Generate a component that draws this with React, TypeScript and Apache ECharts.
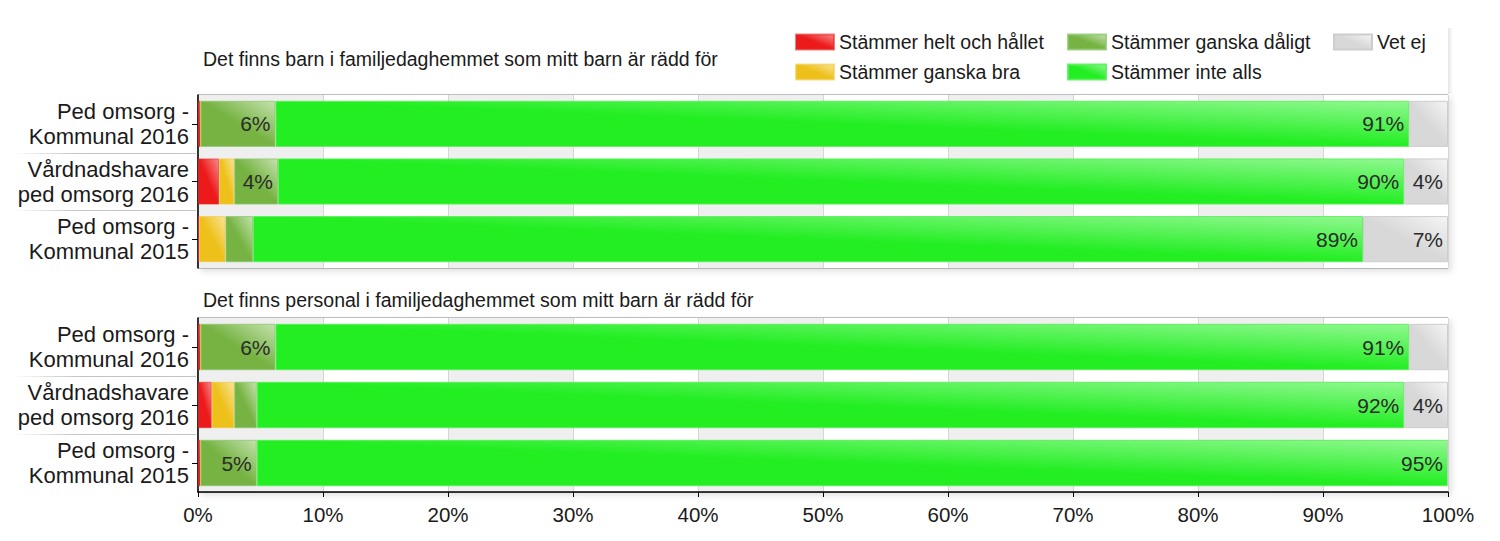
import React, { useEffect, useRef } from "react";
import * as echarts from "echarts";

const categories = [
  "Ped omsorg -\nKommunal 2016",
  "Vårdnadshavare\nped omsorg 2016",
  "Ped omsorg -\nKommunal 2015",
];
const seriesNames = [
  "Stämmer helt och hållet",
  "Stämmer ganska bra",
  "Stämmer ganska dåligt",
  "Stämmer inte alls",
  "Vet ej",
];
const panelTitles = [
  "Det finns barn i familjedaghemmet som mitt barn är rädd för",
  "Det finns personal i familjedaghemmet som mitt barn är rädd för",
];
const xTicks = [0, 10, 20, 30, 40, 50, 60, 70, 80, 90, 100];

// Panel 1: barn
const barnHelt = [0.2, 1.7, 0.1];
const barnBra = [0, 1.2, 2.1];
const barnDaligt = [6.0, 3.5, 2.2];
const barnInte = [90.7, 90.1, 88.8];
const barnVetEj = [3.1, 3.5, 6.8];

// Panel 2: personal
const persHelt = [0.2, 1.1, 0.2];
const persBra = [0, 1.8, 0];
const persDaligt = [6.0, 1.8, 4.5];
const persInte = [90.7, 91.8, 95.3];
const persVetEj = [3.1, 3.5, 0];

const FONT = "'Liberation Sans', Arial, sans-serif";

const palette = [
  { base: "#ec1a1a", light: "#f88a8a", border: "rgba(230,40,40,0.6)" },
  { base: "#eec01a", light: "#f9e496", border: "rgba(240,200,60,0.6)" },
  { base: "#76b342", light: "#c4e2ae", border: "rgba(140,200,110,0.8)" },
  { base: "#22ee22", light: "#90f890", border: "rgba(90,240,90,0.9)" },
  { base: "#d8d8d8", light: "#f5f5f5", border: "#cdcdcd" },
];

const grad = (base: string, light: string) =>
  new echarts.graphic.LinearGradient(0, 1, 1, 0, [
    { offset: 0, color: base },
    { offset: 0.5, color: base },
    { offset: 1, color: light },
  ]);

export default function App() {
  const ref = useRef<HTMLDivElement>(null);

  useEffect(() => {
    if (!ref.current) return;
    const chart = echarts.init(ref.current, null, { renderer: "svg" });

    const panels = [
      [barnHelt, barnBra, barnDaligt, barnInte, barnVetEj],
      [persHelt, persBra, persDaligt, persInte, persVetEj],
    ];

    const series: any[] = [];
    panels.forEach((panel, gi) => {
      panel.forEach((vals, si) => {
        series.push({
          type: "bar",
          name: seriesNames[si],
          xAxisIndex: gi,
          yAxisIndex: gi,
          stack: "s" + gi,
          barCategoryGap: "20%",
          data: vals,
          itemStyle: {
            color: grad(palette[si].base, palette[si].light),
            borderColor: palette[si].border,
            borderWidth: 1,
          },
          label: {
            show: true,
            position: "insideRight",
            distance: 5,
            fontSize: 21,
            fontFamily: FONT,
            color: "#2a2a2a",
            formatter: (p: any) =>
              p.value >= 3.3 ? Math.round(p.value) + "%" : "",
          },
        });
      });
    });

    const gridCommon = {
      left: 198,
      width: 1250,
      show: true,
      backgroundColor: "#ffffff",
      borderColor: "#808080",
      borderWidth: 1,
      shadowColor: "rgba(0,0,0,0.12)",
      shadowBlur: 6,
      shadowOffsetX: 3,
      shadowOffsetY: 3,
    };

    const xCommon = {
      type: "value",
      min: 0,
      max: 100,
      interval: 10,
      splitLine: { show: true, lineStyle: { color: "#d6d6d6" } },
      splitArea: { show: true, areaStyle: { color: ["#efefef", "#ffffff"] } },
    };

    const yCommon = {
      type: "category",
      data: categories,
      inverse: true,
      axisLine: { show: true, lineStyle: { color: "#000", width: 1.5 } },
      axisTick: { show: true, alignWithLabel: true, length: 6, lineStyle: { color: "#000" } },
      axisLabel: {
        fontSize: 22,
        lineHeight: 25,
        color: "#1a1a1a",
        fontFamily: FONT,
        margin: 9,
        align: "right",
      },
    };

    const legendCommon = {
      orient: "vertical",
      top: 27,
      itemWidth: 38,
      itemHeight: 15,
      itemGap: 10,
      selectedMode: false,
      icon: "rect",
      textStyle: { fontSize: 19.5, color: "#1a1a1a", fontFamily: FONT },
    };

    const option: any = {
      animation: false,
      textStyle: { fontFamily: FONT },
      title: [
        {
          text: panelTitles[0],
          left: 198,
          top: 44,
          textStyle: { fontSize: 19.5, fontWeight: "normal", color: "#1a1a1a", fontFamily: FONT },
        },
        {
          text: panelTitles[1],
          left: 198,
          top: 285,
          textStyle: { fontSize: 19.5, fontWeight: "normal", color: "#1a1a1a", fontFamily: FONT },
        },
      ],
      legend: [
        { ...legendCommon, left: 790, data: [seriesNames[0], seriesNames[1]] },
        { ...legendCommon, left: 1062, data: [seriesNames[2], seriesNames[3]] },
        { ...legendCommon, left: 1328, data: [seriesNames[4]] },
      ],
      grid: [
        { ...gridCommon, top: 95, height: 173 },
        { ...gridCommon, top: 318, height: 174 },
      ],
      xAxis: [
        {
          ...xCommon,
          gridIndex: 0,
          axisLabel: { show: false },
          axisLine: { show: false },
          axisTick: { show: false },
        },
        {
          ...xCommon,
          gridIndex: 1,
          axisLine: { show: true, lineStyle: { color: "#000", width: 1.5 } },
          axisTick: { show: true, length: 5, lineStyle: { color: "#000" } },
          axisLabel: {
            fontSize: 20.5,
            color: "#1a1a1a",
            fontFamily: FONT,
            margin: 12,
            formatter: (v: number) => (xTicks.includes(v) ? v + "%" : ""),
          },
        },
      ],
      yAxis: [
        { ...yCommon, gridIndex: 0 },
        { ...yCommon, gridIndex: 1 },
      ],
      series,
    };

    chart.setOption(option);

    // legend box right-edge shadow and separator lines between category labels
    const graphics: any[] = [
      {
        type: "rect",
        shape: { x: 1448, y: 28, width: 5, height: 66 },
        style: {
          fill: new echarts.graphic.LinearGradient(0, 0, 1, 0, [
            { offset: 0, color: "rgba(0,0,0,0.10)" },
            { offset: 1, color: "rgba(0,0,0,0)" },
          ]),
        },
        silent: true,
      },
    ];
    [0, 1].forEach((gi) => {
      const centers = categories.map((_, i) =>
        chart.convertToPixel({ yAxisIndex: gi } as any, i) as number
      );
      for (let i = 0; i < centers.length - 1; i++) {
        const y = (centers[i] + centers[i + 1]) / 2;
        graphics.push({
          type: "rect",
          shape: { x: 12, y: Math.round(y), width: 184, height: 1 },
          style: {
            fill: new echarts.graphic.LinearGradient(0, 0, 1, 0, [
              { offset: 0, color: "rgba(190,190,190,0)" },
              { offset: 0.35, color: "rgba(190,190,190,0.9)" },
              { offset: 1, color: "rgba(190,190,190,0.9)" },
            ]),
          },
          silent: true,
        });
      }
    });
    chart.setOption({ graphic: graphics });

    return () => chart.dispose();
  }, []);

  return (
    <div
      ref={ref}
      style={{ position: "fixed", left: 0, top: 0, width: 1500, height: 541, background: "#fff" }}
    />
  );
}
